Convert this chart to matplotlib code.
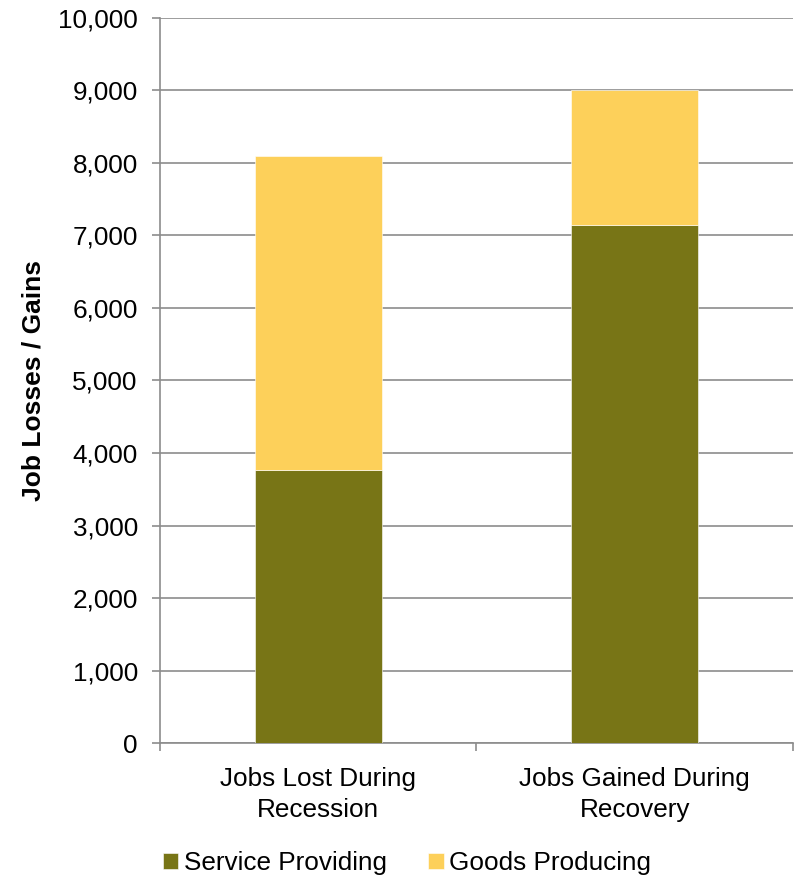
import matplotlib
matplotlib.use("Agg")
import matplotlib.pyplot as plt
from matplotlib.ticker import FuncFormatter, MultipleLocator, FixedLocator

plt.rcParams['font.family'] = ['Liberation Sans', 'DejaVu Sans']

categories = ["Jobs Lost During\nRecession", "Jobs Gained During\nRecovery"]
service_providing = [3770, 7150]
goods_producing = [4330, 1850]

olive = "#787516"
gold = "#FDD05A"
grid_gray = "#8C8C8C"
fs = 18.8

fig = plt.figure(figsize=(7.98, 8.76), dpi=100)
ax = fig.add_axes([0.2005, 0.1518, 0.7932, 0.8277])

x = list(range(len(categories)))
ax.bar(x, service_providing, width=0.4, color=olive, label="Service Providing",
       edgecolor="white", linewidth=0.4, zorder=3)
ax.bar(x, goods_producing, width=0.4, bottom=service_providing, color=gold,
       label="Goods Producing", edgecolor="white", linewidth=0.4, zorder=3)

ax.set_xlim(-0.5, 1.5)
ax.set_ylim(0, 10000)
ax.yaxis.set_major_locator(MultipleLocator(1000))
ax.yaxis.set_major_formatter(FuncFormatter(lambda v, p: f"{int(v):,}"))
ax.grid(axis="y", color=grid_gray, linewidth=1.2, zorder=0)

ax.set_xticks(x)
ax.set_xticklabels(categories, fontsize=fs, linespacing=1.36)
ax.tick_params(axis="x", which="major", length=0, pad=17.5)
ax.xaxis.set_minor_locator(FixedLocator([-0.5, 0.5, 1.5]))
ax.tick_params(axis="x", which="minor", length=6, width=1.2, color=grid_gray, direction="out")
ax.tick_params(axis="y", length=6, width=1.2, color=grid_gray, labelsize=fs, pad=10)

for side in ("top", "right"):
    ax.spines[side].set_visible(False)
for side in ("left", "bottom"):
    ax.spines[side].set_color(grid_gray)
    ax.spines[side].set_linewidth(1.2)

ax.set_ylabel("Job Losses / Gains", fontsize=19, fontweight="bold", labelpad=9)

fig.legend(loc="center", bbox_to_anchor=(407 / 798, 13 / 876), ncol=2, frameon=False,
           fontsize=fs, handlelength=0.6, handleheight=0.6, handletextpad=0.2,
           columnspacing=1.6, borderaxespad=0, borderpad=0)

fig.savefig("out.png", dpi=100)
